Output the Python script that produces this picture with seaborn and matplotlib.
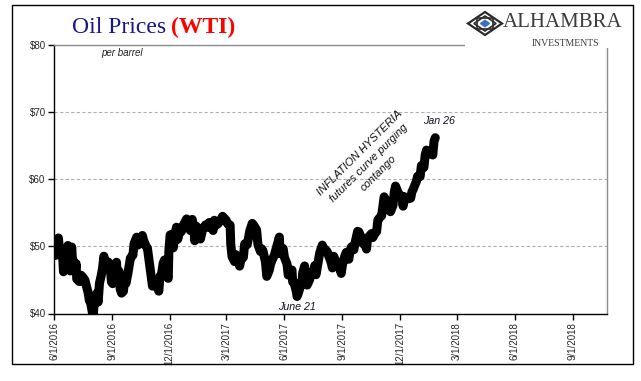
import pandas as pd
import seaborn as sns
import matplotlib.pyplot as plt
from matplotlib.patches import Rectangle, Polygon

# WTI closes (USD per barrel)
dates = [
    '2016-06-01', '2016-06-03', '2016-06-06', '2016-06-08', '2016-06-10', '2016-06-13', '2016-06-15',
    '2016-06-16', '2016-06-20', '2016-06-22', '2016-06-23', '2016-06-24', '2016-06-27', '2016-06-29',
    '2016-06-30', '2016-07-05', '2016-07-06', '2016-07-07', '2016-07-11', '2016-07-13', '2016-07-14',
    '2016-07-18', '2016-07-20', '2016-07-22', '2016-07-25', '2016-07-27', '2016-07-29', '2016-08-01',
    '2016-08-02', '2016-08-04', '2016-08-08', '2016-08-10', '2016-08-12', '2016-08-15', '2016-08-17',
    '2016-08-19', '2016-08-22', '2016-08-24', '2016-08-26', '2016-08-29', '2016-08-31', '2016-09-02',
    '2016-09-06', '2016-09-08', '2016-09-09', '2016-09-12', '2016-09-14', '2016-09-16', '2016-09-19',
    '2016-09-21', '2016-09-23', '2016-09-26', '2016-09-28', '2016-09-30', '2016-10-04', '2016-10-06',
    '2016-10-10', '2016-10-12', '2016-10-14', '2016-10-19', '2016-10-21', '2016-10-25', '2016-10-27',
    '2016-10-31', '2016-11-02', '2016-11-04', '2016-11-08', '2016-11-10', '2016-11-14', '2016-11-16',
    '2016-11-18', '2016-11-21', '2016-11-23', '2016-11-25', '2016-11-29', '2016-11-30', '2016-12-02',
    '2016-12-05', '2016-12-07', '2016-12-09', '2016-12-12', '2016-12-14', '2016-12-16', '2016-12-20',
    '2016-12-22', '2016-12-28', '2016-12-30',
    '2017-01-03', '2017-01-05', '2017-01-06', '2017-01-09', '2017-01-10', '2017-01-12', '2017-01-17',
    '2017-01-19', '2017-01-23', '2017-01-25', '2017-01-27', '2017-01-31', '2017-02-02', '2017-02-06',
    '2017-02-08', '2017-02-10', '2017-02-14', '2017-02-16', '2017-02-21', '2017-02-23', '2017-02-27',
    '2017-03-01', '2017-03-03', '2017-03-07', '2017-03-08', '2017-03-10', '2017-03-14', '2017-03-16',
    '2017-03-20', '2017-03-22', '2017-03-24', '2017-03-28', '2017-03-30', '2017-04-03', '2017-04-05',
    '2017-04-07', '2017-04-11', '2017-04-13', '2017-04-18', '2017-04-20', '2017-04-24', '2017-04-26',
    '2017-04-28', '2017-05-02', '2017-05-04', '2017-05-08', '2017-05-10', '2017-05-12', '2017-05-16',
    '2017-05-18', '2017-05-22', '2017-05-24', '2017-05-25', '2017-05-30', '2017-06-01', '2017-06-05',
    '2017-06-07', '2017-06-09', '2017-06-13', '2017-06-14', '2017-06-16', '2017-06-20', '2017-06-21',
    '2017-06-23', '2017-06-27', '2017-06-29', '2017-06-30', '2017-07-03', '2017-07-05', '2017-07-07',
    '2017-07-11', '2017-07-13', '2017-07-17', '2017-07-19', '2017-07-21', '2017-07-25', '2017-07-27',
    '2017-07-31', '2017-08-02', '2017-08-04', '2017-08-08', '2017-08-10', '2017-08-14', '2017-08-16',
    '2017-08-18', '2017-08-22', '2017-08-24', '2017-08-28', '2017-08-30', '2017-09-01', '2017-09-05',
    '2017-09-07', '2017-09-11', '2017-09-13', '2017-09-15', '2017-09-19', '2017-09-21', '2017-09-25',
    '2017-09-27', '2017-09-29', '2017-10-03', '2017-10-05', '2017-10-09', '2017-10-11', '2017-10-13',
    '2017-10-17', '2017-10-19', '2017-10-23', '2017-10-25', '2017-10-27', '2017-10-31', '2017-11-02',
    '2017-11-06', '2017-11-08', '2017-11-10', '2017-11-14', '2017-11-16', '2017-11-20', '2017-11-22',
    '2017-11-24', '2017-11-28', '2017-11-30', '2017-12-04', '2017-12-06', '2017-12-08', '2017-12-12',
    '2017-12-14', '2017-12-18', '2017-12-20', '2017-12-22', '2017-12-27', '2017-12-29',
    '2018-01-02', '2018-01-04', '2018-01-08', '2018-01-10', '2018-01-12', '2018-01-16', '2018-01-18',
    '2018-01-22', '2018-01-24', '2018-01-26',
]
prices = [
    49.01, 48.62, 49.69, 51.23, 49.07, 48.88, 48.01,
    46.21, 48.96, 49.13, 50.11, 47.64, 46.33, 49.88,
    48.33, 46.60, 47.43, 45.14, 44.76, 44.75, 45.68,
    45.24, 44.94, 44.19, 43.13, 41.92, 41.60, 40.06,
    39.51, 41.93, 43.02, 41.71, 44.49, 45.74, 46.79,
    48.52, 47.05, 46.77, 47.64, 46.98, 44.70, 44.44,
    44.83, 47.62, 45.88, 46.29, 43.58, 43.03, 43.30,
    45.34, 44.48, 45.93, 47.05, 48.24, 48.69, 50.44,
    51.35, 50.18, 50.35, 51.60, 50.85, 49.96, 49.72,
    46.86, 45.34, 44.07, 44.98, 44.66, 43.32, 45.57,
    45.69, 47.49, 47.96, 46.06, 45.23, 49.44, 51.68,
    51.79, 49.77, 51.50, 52.83, 51.04, 51.90, 52.23,
    52.95, 54.06, 53.72,
    52.33, 53.76, 53.99, 51.96, 50.82, 53.01, 52.48,
    51.08, 52.75, 52.75, 53.17, 52.81, 53.54, 53.01,
    52.34, 53.86, 53.20, 53.36, 54.06, 54.45, 54.05,
    53.83, 53.33, 53.14, 50.28, 48.49, 47.72, 48.75,
    48.22, 47.04, 47.97, 48.37, 50.35, 50.24, 51.15,
    52.24, 53.40, 53.18, 52.41, 50.27, 49.23, 49.62,
    49.33, 47.66, 45.52, 46.43, 47.33, 47.84, 48.66,
    49.35, 50.73, 51.36, 48.90, 49.66, 48.36, 47.40,
    45.72, 45.83, 46.46, 44.73, 44.68, 43.23, 42.53,
    43.01, 44.24, 44.93, 46.04, 47.07, 45.13, 44.23,
    45.04, 46.08, 46.02, 47.12, 45.77, 47.89, 49.04,
    50.17, 49.59, 49.58, 49.17, 48.59, 47.59, 46.78,
    48.51, 47.64, 47.43, 46.57, 45.96, 47.29, 48.66,
    49.09, 48.07, 49.30, 49.89, 49.48, 50.55, 52.22,
    52.14, 51.67, 50.42, 50.79, 49.58, 51.30, 51.45,
    51.88, 51.29, 52.00, 52.18, 53.90, 54.38, 54.54,
    57.35, 56.81, 56.74, 55.70, 55.14, 56.09, 58.02,
    58.95, 57.99, 57.40, 57.47, 55.96, 57.36, 57.14,
    57.04, 57.16, 58.09, 58.47, 59.64, 60.42,
    60.37, 62.01, 61.73, 63.57, 64.30, 63.73, 63.95,
    63.57, 65.61, 66.14,
]

tick_labels = ['6/1/2016', '9/1/2016', '12/1/2016', '3/1/2017', '6/1/2017',
               '9/1/2017', '12/1/2017', '3/1/2018', '6/1/2018', '9/1/2018']
y_ticks = [40, 50, 60, 70, 80]
y_labels = [r'\$40', r'\$50', r'\$60', r'\$70', r'\$80']
x_start, x_end = '2016-06-01', '2018-10-25'

W, H = 641, 381


def fx(px):
    return px / W


def fy(py):
    return 1 - py / H


sns.set_style('white')
plt.rcParams['font.family'] = ['Liberation Sans', 'DejaVu Sans']

df = pd.DataFrame({'date': pd.to_datetime(dates), 'price': prices})

fig = plt.figure(figsize=(6.41, 3.81), dpi=100)
ax = fig.add_axes([fx(54), fy(313.5), fx(607) - fx(54), fy(44.5) - fy(313.5)])

sns.lineplot(data=df, x='date', y='price', ax=ax, color='black', linewidth=6.5,
             solid_capstyle='round', solid_joinstyle='round', zorder=3)

ax.set_xlim(pd.Timestamp(x_start), pd.Timestamp(x_end))
ax.set_ylim(40, 80)
ax.set_xticks(pd.to_datetime(tick_labels, format='%m/%d/%Y'))
ax.set_xticklabels(tick_labels, rotation=90, fontsize=7, va='top', ha='center')
ax.set_yticks(y_ticks)
ax.set_yticklabels(y_labels, fontsize=7)
ax.set_xlabel('')
ax.set_ylabel('')
ax.tick_params(axis='both', direction='out', length=4, width=1, color='black',
               bottom=True, left=True, pad=2)

ax.yaxis.grid(True, color='#b0b0b0', linestyle=(0, (3, 2)), linewidth=0.8)
ax.xaxis.grid(False)
for side in ['left', 'bottom']:
    ax.spines[side].set_color('black')
    ax.spines[side].set_linewidth(1)
for side in ['top', 'right']:
    ax.spines[side].set_color('#8c8c8c')
    ax.spines[side].set_linewidth(1)

# annotations
fig.text(fx(101), fy(53), 'per barrel', style='italic', fontsize=7, va='center', color='#222222')
fig.text(fx(439), fy(121), 'Jan 26', style='italic', fontsize=7.7, ha='center', va='center',
         color='#111122')
fig.text(fx(297), fy(307), 'June 21', style='italic', fontsize=7.7, ha='center', va='center',
         color='#111122')
fig.text(fx(369), fy(163), 'INFLATION HYSTERIA\nfutures curve purging\ncontango', style='italic',
         fontsize=8, rotation=45, ha='center', va='center', multialignment='center',
         linespacing=1.45, rotation_mode='anchor', color='#111111')

# title
t1 = fig.text(fx(72), fy(33), 'Oil Prices', family=['Liberation Serif', 'DejaVu Serif'],
              fontsize=17, color='#15158c', va='baseline')
fig.canvas.draw()
bb = t1.get_window_extent()
fig.text((bb.x1 + 5) / W, fy(33), '(WTI)', family=['Liberation Serif', 'DejaVu Serif'],
         fontsize=17, color='#ff0000', fontweight='bold', va='baseline')

# logo
lax = fig.add_axes([fx(465), fy(48), fx(632) - fx(465), fy(6) - fy(48)])
lax.set_zorder(5)
lax.set_xlim(465, 632)
lax.set_ylim(48, 6)
lax.axis('off')
lax.add_patch(Rectangle((465, 6), 167, 42, color='white', zorder=0))
cx, cy, hw, hh = 485, 23.5, 17, 11.5
lax.add_patch(Polygon([(cx - hw, cy), (cx, cy - hh), (cx + hw, cy), (cx, cy + hh)], closed=True,
                      fill=False, edgecolor='#2b2b2b', linewidth=1.6))
lax.add_patch(Polygon([(cx - hw * 0.65, cy), (cx, cy - hh * 0.65), (cx + hw * 0.65, cy),
                       (cx, cy + hh * 0.65)], closed=True, fill=False, edgecolor='#2b2b2b',
                      linewidth=1.2))
lax.add_patch(Rectangle((cx - hw * 0.45, cy - hh * 0.45), hw * 0.9, hh * 0.9, fill=False,
                        edgecolor='#2b2b2b', linewidth=1.2))
lax.add_patch(Polygon([(cx - 4.5, cy), (cx, cy - 3.2), (cx + 4.5, cy), (cx, cy + 3.2)], closed=True,
                      color='#3a72c0'))
lax.text(503, 27, 'ALHAMBRA', family=['Liberation Serif', 'DejaVu Serif'], fontsize=15,
         color='#3c3c3c', va='baseline', ha='left')
lax.text(566, 46.5, 'INVESTMENTS', family=['Liberation Serif', 'DejaVu Serif'], fontsize=7,
         color='#3c3c3c', va='baseline', ha='center')

# outer frame
fig.patches.append(Rectangle((fx(12), fy(364)), fx(633) - fx(12), fy(5) - fy(364),
                             transform=fig.transFigure, fill=False, edgecolor='black',
                             linewidth=1, zorder=10))

fig.savefig('out.png', dpi=100)
